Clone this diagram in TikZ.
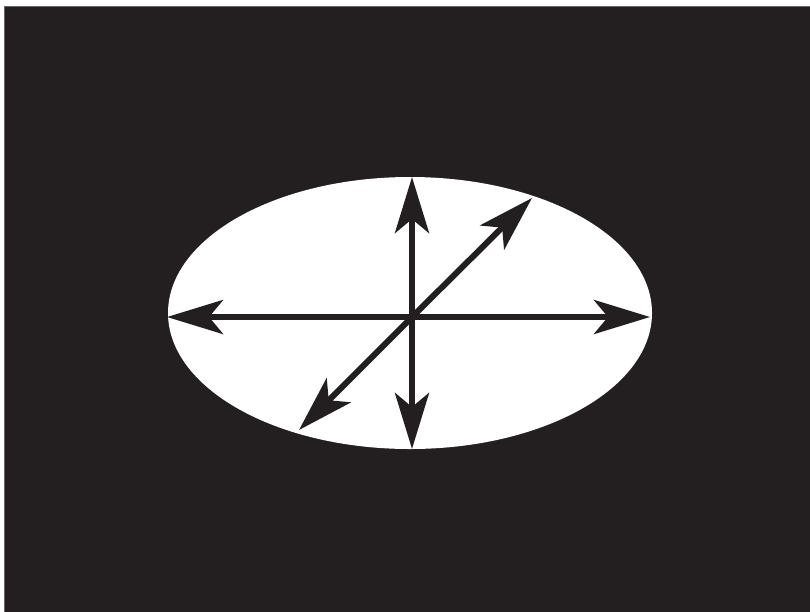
\documentclass[tikz,border=0pt]{standalone}
\usetikzlibrary{arrows.meta,shapes.geometric}
\definecolor{ink}{HTML}{231F20}
\tikzset{
myarrow/.style={
  draw=ink,
  line width=6pt,
  -{Stealth[length=56pt,width=34pt,inset=14pt]}
  },
myoval/.style={
  ellipse,
  fill=white,
  minimum width=484pt,
  minimum height=272pt,
  inner sep=0pt
  }
}
\begin{document}
\begin{tikzpicture}[x=1pt,y=-1pt]
\useasboundingbox (0,0) rectangle (810,611);
\fill[white] (0,0) rectangle (810,611);
\draw[fill=ink,draw=black!60,line width=1pt] (4.5,6.5) rectangle (812,613);

\node[myoval] (oval) at (410,313) {};

\coordinate (ctr) at (412,317);
\coordinate (tipw) at (167,317);
\coordinate (tipe) at (650,317);
\coordinate (tipn) at (412,177);
\coordinate (tips) at (412,449);
\coordinate (tipne) at (532,198);
\coordinate (tipsw) at (299,430);

\draw[myarrow] (ctr) -- (tipw);
\draw[myarrow] (ctr) -- (tipe);
\draw[myarrow] (ctr) -- (tipn);
\draw[myarrow] (ctr) -- (tips);
\draw[myarrow] (ctr) -- (tipne);
\draw[myarrow] (ctr) -- (tipsw);
\end{tikzpicture}
\end{document}
